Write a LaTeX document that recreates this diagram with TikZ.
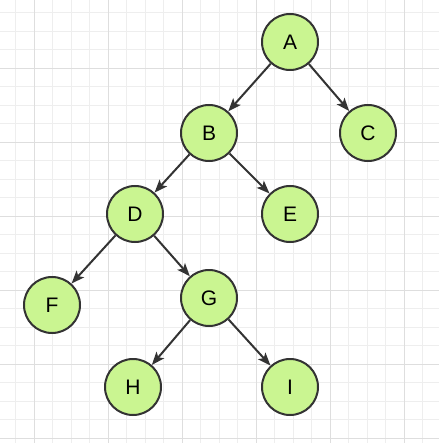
\documentclass[tikz,border=0pt]{standalone}
\usepackage{fontspec}
\setmainfont{Liberation Sans}
\usetikzlibrary{arrows.meta}
\definecolor{leaf}{RGB}{202,245,145}
\definecolor{ink}{RGB}{51,51,51}
\definecolor{minorgrid}{RGB}{238,238,238}
\definecolor{majorgrid}{RGB}{222,222,222}

\begin{document}
\begin{tikzpicture}[x=1pt,y=-1pt,
 treenode/.style={circle,draw=ink,line width=2pt,fill=leaf,minimum size=56pt,inner sep=0pt,font=\fontsize{21}{21}\selectfont},
 link/.style={draw=ink,line width=2pt,-{Stealth[length=13pt,width=10pt,inset=3pt]}},
 >={Stealth[length=2mm]}]
\useasboundingbox (0,0) rectangle (439,443);
% background grid
\foreach \i in {0,...,24} {
  \draw[minorgrid,line width=0.8pt] (15.5+18.5*\i,0) -- (15.5+18.5*\i,443);
  \draw[minorgrid,line width=0.8pt] (0,12.5+18.5*\i) -- (439,12.5+18.5*\i);
}
\foreach \i in {0,...,5} {
  \draw[majorgrid,line width=0.8pt] (34+74*\i,0) -- (34+74*\i,443);
  \draw[majorgrid,line width=0.8pt] (0,68+74*\i) -- (439,68+74*\i);
}
% tree
\node[treenode] (nA) at (290,42) {A};
\node[treenode] (nB) at (209,133) {B};
\node[treenode] (nC) at (368,133) {C};
\node[treenode] (nD) at (135,214) {D};
\node[treenode] (nE) at (290,214) {E};
\node[treenode] (nF) at (52,305) {F};
\node[treenode] (nG) at (209,298) {G};
\node[treenode] (nH) at (133,387) {H};
\node[treenode] (nI) at (290,387) {I};
\draw[link] (nA)--(nB); \draw[link] (nA)--(nC);
\draw[link] (nB)--(nD); \draw[link] (nB)--(nE);
\draw[link] (nD)--(nF); \draw[link] (nD)--(nG);
\draw[link] (nG)--(nH); \draw[link] (nG)--(nI);
\end{tikzpicture}
\end{document}
